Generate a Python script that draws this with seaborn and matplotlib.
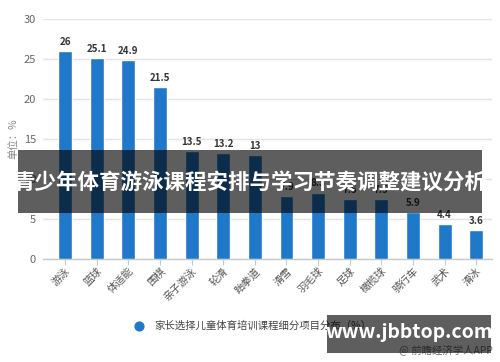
import matplotlib
matplotlib.use("Agg")
import matplotlib.pyplot as plt
import seaborn as sns
import pandas as pd
from matplotlib.patches import Rectangle

# data
categories = ["游泳", "篮球", "体适能", "围棋", "亲子游泳", "轮滑", "跆拳道",
              "滑雪", "羽毛球", "足球", "橄榄球", "骑行车", "武术", "滑冰"]
values     = [26, 25.1, 24.9, 21.5, 13.5, 13.2, 13, 7.9, 8.3, 7.5, 7.5, 5.9, 4.4, 3.6]
value_text = ["26", "25.1", "24.9", "21.5", "13.5", "13.2", "13",
              "7.9", "8.3", "7.5", "7.5", "5.9", "4.4", "3.6"]
y_ticks    = [0, 5, 10, 15, 20, 25, 30]

legend_label = "家长选择儿童体育培训课程细分项目分布（%）"
banner_title = "青少年体育游泳课程安排与学习节奏调整建议分析"
site_mark    = "www.jbbtop.com"

BAR_BLUE = "#1f78c8"

sns.set_theme(style="white")
plt.rcParams["font.family"] = ["Noto Sans CJK SC", "DejaVu Sans"]

df = pd.DataFrame({"项目": categories, "占比": values})

fig = plt.figure(figsize=(5.0, 3.62), dpi=100)
fig.patch.set_facecolor("white")
ax = fig.add_axes([0.086, 0.2845, 0.898, 0.663])

sns.barplot(data=df, x="项目", y="占比", color=BAR_BLUE, width=0.44,
            saturation=1, ax=ax, zorder=3)

ax.set_ylim(0, 30)
ax.set_xlim(-0.7, 13.5)
ax.set_yticks(y_ticks)
ax.yaxis.grid(True, color="#e4e4e4", linewidth=1.0, zorder=0)
ax.set_axisbelow(True)
for s in ["top", "right", "left"]:
    ax.spines[s].set_visible(False)
ax.spines["bottom"].set_color("#c8c8c8")
ax.spines["bottom"].set_linewidth(1.0)

ax.tick_params(axis="y", length=0, labelsize=8, labelcolor="#666666", pad=5)
ax.tick_params(axis="x", bottom=True, length=4, width=0.8, color="#c8c8c8",
               labelsize=7.5, labelcolor="#555555", pad=1)
plt.setp(ax.get_xticklabels(), rotation=45, ha="right", rotation_mode="anchor")

ax.set_xlabel("")
ax.set_ylabel("单位：%", fontsize=7.5, color="#888888", labelpad=4)

ax.bar_label(ax.containers[0], labels=value_text, padding=3,
             fontsize=7, fontweight="bold", color="#333333")

# legend below the plot
ax.scatter([], [], s=40, color=BAR_BLUE, label=legend_label)
leg = fig.legend(loc="center", bbox_to_anchor=(0.5, 0.10), frameon=False,
                 fontsize=7.5, handletextpad=0.4, markerscale=1.0)
for t in leg.get_texts():
    t.set_color("#444444")

# faint source line
fig.text(0.985, 0.035, "@ 前瞻经济学人APP", ha="right", va="center",
         fontsize=7.5, color="#777777")

# dark translucent overlay banner with title
fig.patches.append(Rectangle((0.036, 1 - 213 / 362), 0.928, 63 / 362,
                             transform=fig.transFigure, facecolor="black",
                             alpha=0.63, edgecolor="none", zorder=10))
fig.text(0.5, 1 - 183 / 362, banner_title, ha="center", va="center",
         fontsize=15.5, fontweight="bold", color="white", zorder=11)

# site watermark box
fig.patches.append(Rectangle((327 / 500, 1 - 353 / 362), 164 / 500, 38 / 362,
                             transform=fig.transFigure, facecolor="black",
                             alpha=0.63, edgecolor="none", zorder=10))
fig.text(409 / 500, 1 - 333 / 362, site_mark, ha="center", va="center",
         fontsize=14, fontweight="bold", color="white", zorder=11)

fig.savefig("out.png", dpi=100)
